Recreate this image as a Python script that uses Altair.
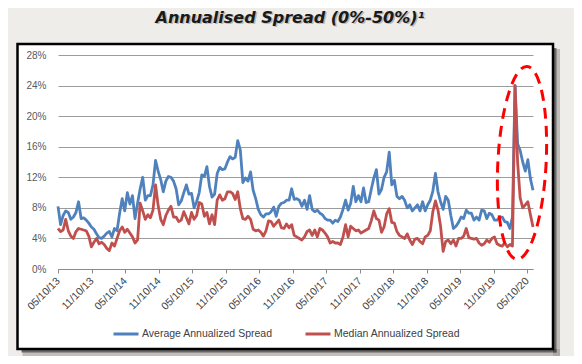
import altair as alt
import pandas as pd

# ---------------- data ----------------
start_date = "2013-05-10"
n_points = 186  # fortnightly observations
dates = pd.date_range(start_date, periods=n_points, freq="14D")

average_spread = [
    8.2, 5.8, 7.0, 7.6, 7.4, 6.5, 6.8, 7.4, 8.8, 6.6,
    6.7, 6.4, 6.0, 5.5, 5.2, 4.6, 4.1, 4.0, 4.3, 4.7,
    4.9, 4.2, 5.3, 5.0, 7.3, 9.2, 7.6, 10.0, 8.5, 9.6,
    6.6, 8.6, 10.5, 12.0, 9.0, 9.6, 9.6, 11.0, 14.2, 12.8,
    11.7, 10.1, 11.5, 12.1, 12.0, 11.5, 10.5, 8.4, 8.9, 10.0,
    11.0, 9.8, 9.9, 8.0, 8.8, 10.0, 12.3, 12.1, 13.4, 10.8,
    9.4, 9.8, 12.5, 13.3, 13.0, 13.1, 14.0, 14.7, 14.4, 14.6,
    16.8, 15.6, 11.3, 11.9, 11.5, 12.7, 10.3, 9.2, 7.8, 7.1,
    6.8, 7.2, 7.2, 7.5, 8.1, 6.9, 8.2, 8.6, 8.7, 9.0,
    9.0, 10.5, 9.1, 9.2, 9.0, 8.2, 9.0, 7.8, 9.6, 7.8,
    7.5, 7.7, 7.3, 7.1, 6.6, 6.4, 6.4, 6.0, 6.4, 6.2,
    6.8, 7.8, 9.0, 7.7, 8.6, 10.8, 8.8, 9.6, 8.8, 10.6,
    8.7, 8.8, 10.4, 11.9, 13.0, 9.8, 10.4, 12.0, 12.7, 15.3,
    11.0, 11.6, 9.5, 9.2, 9.5, 9.0, 8.0, 8.4, 7.6, 8.0,
    8.4, 7.6, 8.8, 7.6, 8.4, 9.0, 10.2, 12.5, 10.1, 8.8,
    7.8, 9.5, 9.0, 7.0, 5.3, 5.6, 6.1, 6.8, 6.6, 7.7,
    7.3, 7.3, 6.4, 6.8, 6.4, 7.7, 7.6, 6.6, 7.3, 7.1,
    6.4, 6.4, 6.8, 6.8, 6.2, 6.1, 5.3, 6.8, 24.0, 16.4,
    15.5, 14.0, 12.8, 14.3, 11.8, 10.3,
]

median_spread = [
    5.3, 4.9, 5.1, 6.5, 5.0, 4.3, 4.0, 4.9, 5.3, 5.2,
    5.1, 5.0, 4.3, 2.9, 3.5, 4.0, 3.3, 3.5, 3.2, 2.7,
    2.4, 3.4, 3.0, 4.0, 5.0, 5.5, 4.8, 5.2, 4.7, 4.2,
    3.4, 3.8, 8.6, 7.6, 6.5, 7.1, 6.7, 7.7, 11.0, 8.3,
    6.5, 5.8, 7.0, 7.7, 8.2, 6.8, 6.8, 6.2, 6.4, 7.5,
    6.7, 5.9, 7.4, 6.5, 7.0, 8.7, 8.5, 6.9, 7.4, 5.9,
    7.1, 5.8, 9.0, 9.7, 9.0, 9.2, 10.1, 10.1, 9.9, 9.1,
    10.1, 7.9, 6.6, 6.5, 6.9, 6.5, 5.2, 5.0, 5.1, 4.8,
    4.3, 5.0, 6.3, 6.2, 5.6, 6.0, 6.4, 5.4, 5.3, 5.9,
    5.4, 5.8, 4.4, 4.2, 4.0, 3.8, 4.2, 4.9, 5.1, 4.4,
    5.1, 4.2, 5.3, 5.1, 4.7, 4.2, 3.4, 3.6, 3.4, 3.4,
    3.2, 4.2, 5.8, 4.2, 5.6, 5.3, 5.0, 5.1, 4.7, 4.9,
    5.1, 5.3, 6.3, 7.6, 6.6, 6.4, 4.8, 5.5, 7.2, 7.9,
    6.1, 6.0, 4.9, 4.4, 4.2, 4.0, 4.6, 3.8, 3.2, 3.9,
    4.0, 3.6, 3.3, 4.2, 4.4, 5.0, 7.5, 8.9, 7.7, 5.6,
    2.3, 3.6, 3.8, 3.3, 3.8, 3.0, 4.0, 4.0, 4.3, 5.3,
    4.1, 4.0, 3.9, 4.0, 3.4, 3.1, 3.3, 3.8, 3.5, 4.0,
    4.2, 3.3, 3.1, 3.0, 3.4, 2.9, 3.2, 3.0, 24.0, 14.0,
    9.3, 8.0, 8.4, 8.8, 7.1, 5.5,
]

series_names = ["Average Annualized Spread", "Median Annualized Spread"]
series_colors = ["#4f81bd", "#c0504d"]

tick_dates = [
    (2013, 5), (2013, 11), (2014, 5), (2014, 11), (2015, 5), (2015, 11),
    (2016, 5), (2016, 11), (2017, 5), (2017, 11), (2018, 5), (2018, 11),
    (2019, 5), (2019, 11), (2020, 5),
]
y_ticks = [0, 0.04, 0.08, 0.12, 0.16, 0.20, 0.24, 0.28]

title_text = "Annualised Spread (0%-50%)\u00b9"

# highlight ellipse around the 2020 spike (centre in data units)
ellipse_date = ["2020-04-13"]
ellipse_value = [0.139]

# ---------------- frame ----------------
df = pd.DataFrame({
    "date": list(dates) * 2,
    "series": [series_names[0]] * n_points + [series_names[1]] * n_points,
    "value": [v / 100 for v in average_spread] + [v / 100 for v in median_spread],
})

W, H = 475, 214
PAD = {"left": 50, "top": 47, "right": 41, "bottom": 87}
BG = "#efede9"
deco = pd.DataFrame({"k": [0]})

x_domain = [alt.DateTime(year=2013, month=5, date=10), alt.DateTime(year=2020, month=6, date=12)]
x_scale = alt.Scale(domain=x_domain, nice=False)
y_scale = alt.Scale(domain=[0, 0.28], nice=False)

def rect(x, x2, y, y2, color, opacity=1.0):
    return alt.Chart(deco).mark_rect(color=color, opacity=opacity).encode(
        x=alt.value(x), x2=alt.value(x2), y=alt.value(y), y2=alt.value(y2)
    )

# box in plot coordinates
BL, BR, BT, BB = -40.5, 495, -11, 294
SL, SR, ST, SB = -PAD["left"], W + PAD["right"], -PAD["top"], H + PAD["bottom"]

background = [
    rect(SL, SR, ST, BT, BG),
    rect(SL, SR, BB, SB, BG),
    rect(SL, BL, BT, BB, BG),
    rect(BR, SR, BT, BB, BG),
    # soft drop shadow
    rect(BR, BR + 7, BT + 5, BB + 7, "#9a9894", 0.55),
    rect(BL + 5, BR + 7, BB, BB + 7, "#9a9894", 0.55),
    rect(BR, BR + 3.5, BT + 4, BB + 3.5, "#4a4a4a", 0.75),
    rect(BL + 4, BR + 3.5, BB, BB + 3.5, "#4a4a4a", 0.75),
]

frame = alt.Chart(deco).mark_rect(fillOpacity=0, stroke="#000000", strokeWidth=2.5).encode(
    x=alt.value(BL), x2=alt.value(BR), y=alt.value(BT), y2=alt.value(BB)
)

title_shadow = alt.Chart(deco).mark_text(
    text=title_text, font="DejaVu Sans", fontSize=16, fontStyle="italic", fontWeight="bold",
    align="center", baseline="alphabetic", color="#8a8884", opacity=0.5,
).encode(x=alt.value(233.5), y=alt.value(-31))

title = alt.Chart(deco).mark_text(
    text=title_text, font="DejaVu Sans", fontSize=16, fontStyle="italic", fontWeight="bold",
    align="center", baseline="alphabetic", color="#1a1a1a",
).encode(x=alt.value(232), y=alt.value(-32.5))

lines = alt.Chart(df).mark_line(strokeWidth=2.8, strokeJoin="round").encode(
    x=alt.X("date:T", scale=x_scale, title=None, axis=alt.Axis(
        values=[alt.DateTime(year=y, month=m, date=10) for y, m in tick_dates],
        tickCount=40,
        format="%m/%d/%y", labelAngle=315, labelAlign="right", labelBaseline="middle",
        labelFont="Liberation Sans", labelFontSize=10.5, labelColor="#404040",
        labelPadding=6, labelOverlap=False, labelBound=False, labelFlush=False,
        tickSize=4, tickColor="#8c8c8c", domainColor="#8c8c8c", domainWidth=1.2,
        grid=False,
    )),
    y=alt.Y("value:Q", scale=y_scale, title=None, axis=alt.Axis(
        values=y_ticks, tickCount=20, format=".0%", labelFont="Liberation Sans", labelFontSize=10,
        labelColor="#595959", labelPadding=12, domain=False, ticks=False, labelOverlap=False,
        grid=True, gridColor="#9c9c9c", gridWidth=1,
    )),
    color=alt.Color("series:N", scale=alt.Scale(domain=series_names, range=series_colors),
        legend=alt.Legend(
            orient="none", legendX=54, legendY=265, direction="horizontal", title=None,
            symbolType="stroke", symbolStrokeWidth=3, symbolSize=625,
            labelFont="Liberation Sans", labelFontSize=10.5, labelColor="#404040",
            columnPadding=26, labelOffset=2, padding=0,
        )),
)

ellipse_path = "M -0.25 0 A 0.25 1 0 1 0 0.25 0 A 0.25 1 0 1 0 -0.25 0 Z"
ellipse = alt.Chart(pd.DataFrame({"date": pd.to_datetime(ellipse_date), "value": ellipse_value})).mark_point(
    shape=ellipse_path, size=37249, filled=False, stroke="#ff0000", strokeWidth=3,
    strokeDash=[11, 7], angle=3, opacity=1,
).encode(
    x=alt.X("date:T", scale=x_scale),
    y=alt.Y("value:Q", scale=y_scale),
)

chart = alt.layer(*background, frame, title_shadow, title, lines, ellipse).properties(
    width=W, height=H,
    autosize=alt.AutoSizeParams(type="none"),
    padding=PAD,
    background="#ffffff",
).configure_view(strokeWidth=0)

chart.save("out.html", embed_options={"renderer": "svg", "actions": False})
